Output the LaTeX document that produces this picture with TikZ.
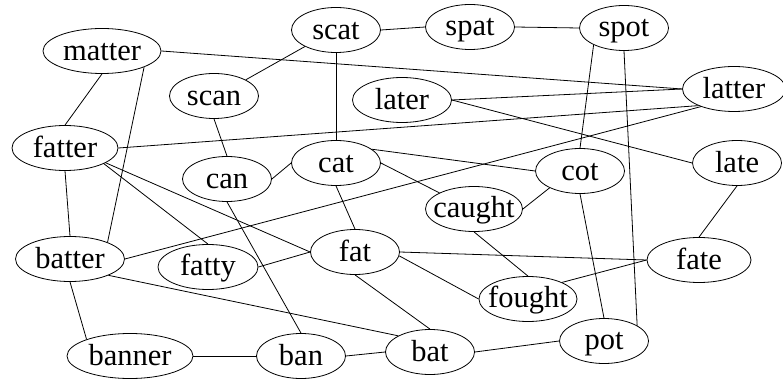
\documentclass[tikz,border=0pt]{standalone}
\usepackage{fontspec}
\setmainfont{Liberation Serif}
\usetikzlibrary{shapes.geometric}
% word label with a fixed strut so every baseline sits at the same height
\newcommand\gword[1]{\makebox[0pt]{#1}\rule[-5pt]{0pt}{29pt}}
\tikzset{
  gnode/.style={ellipse, draw, line width=0.8pt, minimum width=89pt,
    minimum height=45pt, inner sep=0pt,
    font=\fontsize{30.5}{36}\selectfont},
  gedge/.style={line width=0.8pt}
}
\begin{document}
\begin{tikzpicture}[x=1pt,y=-1pt]
\useasboundingbox (0,0) rectangle (783,379);
\node[gnode, minimum width=118pt] (matter) at (102,51) {\gword{matter}};
\node[gnode] (scat)   at (336,30)  {\gword{scat}};
\node[gnode] (spat)   at (470,27)  {\gword{spat}};
\node[gnode] (spot)   at (624,28)  {\gword{spot}};
\node[gnode, minimum width=103pt] (latter) at (734,89) {\gword{latter}};
\node[gnode] (scan)   at (214,96)  {\gword{scan}};
\node[gnode, minimum width=99pt] (later) at (402,100) {\gword{later}};
\node[gnode, minimum width=106pt] (fatter) at (65,148) {\gword{fatter}};
\node[gnode] (can)    at (227,179) {\gword{can}};
\node[gnode] (cat)    at (336,163) {\gword{cat}};
\node[gnode] (cot)    at (580,171) {\gword{cot}};
\node[gnode] (late)   at (737,163) {\gword{late}};
\node[gnode, minimum width=97pt] (caught) at (474,209) {\gword{caught}};
\node[gnode, minimum width=109pt] (batter) at (70,259) {\gword{batter}};
\node[gnode, minimum width=100pt] (fatty) at (208,267) {\gword{fatty}};
\node[gnode] (fat)    at (355,252) {\gword{fat}};
\node[gnode, minimum width=104pt] (fate) at (699,260) {\gword{fate}};
\node[gnode, minimum width=98pt] (fought) at (528,299) {\gword{fought}};
\node[gnode, minimum width=126pt] (banner) at (130,356) {\gword{banner}};
\node[gnode] (ban)    at (301,356) {\gword{ban}};
\node[gnode] (bat)    at (430,352) {\gword{bat}};
\node[gnode] (pot)    at (604,341) {\gword{pot}};

% edges leave and enter the ellipses at fixed border points
\foreach \a/\b in {
  matter.east/latter.west, matter.south/fatter.north, matter.-21/batter.24,
  scat.east/spat.west, spat.east/spot.west, scat.208/scan.27, scat.south/cat.north,
  spot.209/cot.north, spot.south/pot.25,
  later.east/latter.west, later.east/late.west,
  latter.205/fatter.east, latter.208/batter.east,
  scan.south/can.north,
  fatter.south/batter.north, fatter.-22/fatty.north, fatter.-20/fat.west,
  can.east/cat.west, can.south/ban.north,
  cat.21/cot.west, cat.east/caught.155, cat.south/fat.north,
  cot.209/caught.east, cot.south/pot.north,
  late.south/fate.north, caught.south/fought.north,
  batter.south/banner.159, batter.-23/bat.153,
  fatty.east/fat.west, fat.east/fate.west, fat.-5/fought.west, fat.south/bat.north,
  fought.26/fate.west, banner.east/ban.west, ban.east/bat.west, bat.east/pot.west}
  \draw[gedge] (\a) -- (\b);
\end{tikzpicture}
\end{document}
